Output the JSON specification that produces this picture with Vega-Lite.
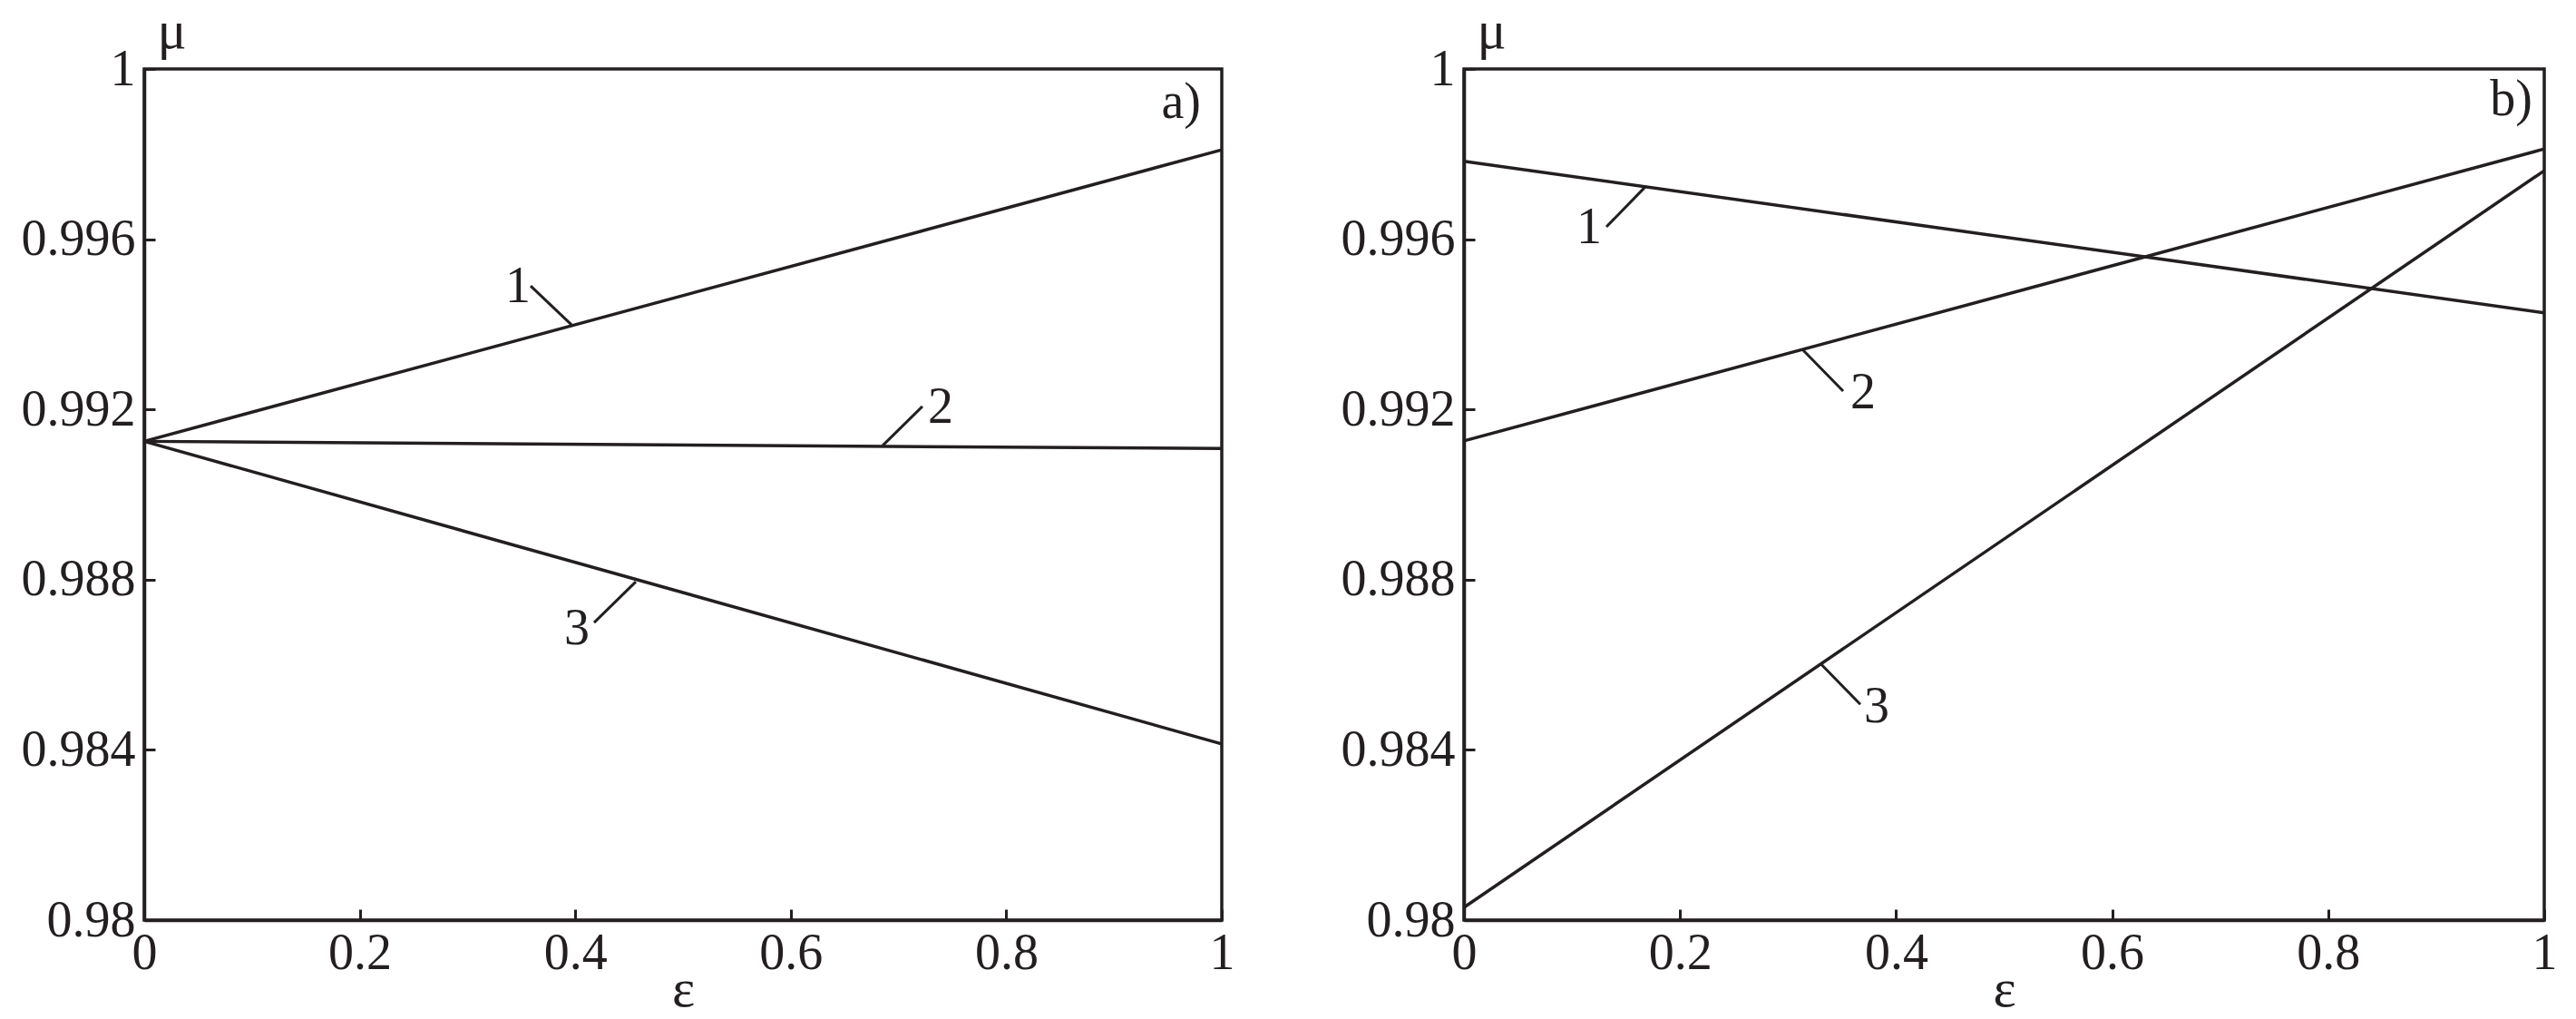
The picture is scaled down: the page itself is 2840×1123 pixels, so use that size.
{
  "$schema": "https://vega.github.io/schema/vega-lite/v6.json",
  "autosize": {"type": "pad"},
  "padding": {"left": 21, "top": 2, "right": 10, "bottom": 5},
  "background": "white",
  "datasets": {
    "lines": [
      {"panel": "a", "curve": "1", "eps": 0, "mu": 0.99125},
      {"panel": "a", "curve": "1", "eps": 1, "mu": 0.9981},
      {"panel": "a", "curve": "2", "eps": 0, "mu": 0.99125},
      {"panel": "a", "curve": "2", "eps": 1, "mu": 0.99108},
      {"panel": "a", "curve": "3", "eps": 0, "mu": 0.99125},
      {"panel": "a", "curve": "3", "eps": 1, "mu": 0.98414},
      {"panel": "b", "curve": "1", "eps": 0, "mu": 0.99783},
      {"panel": "b", "curve": "1", "eps": 1, "mu": 0.99427},
      {"panel": "b", "curve": "2", "eps": 0, "mu": 0.99126},
      {"panel": "b", "curve": "2", "eps": 1, "mu": 0.99812},
      {"panel": "b", "curve": "3", "eps": 0, "mu": 0.9803},
      {"panel": "b", "curve": "3", "eps": 1, "mu": 0.99761}
    ],
    "leaders": [
      {"panel": "a", "curve": "1", "eps": 0.3586, "mu": 0.9949},
      {"panel": "a", "curve": "1", "eps": 0.3965, "mu": 0.99399},
      {"panel": "a", "curve": "2", "eps": 0.7222, "mu": 0.99207},
      {"panel": "a", "curve": "2", "eps": 0.6852, "mu": 0.99115},
      {"panel": "a", "curve": "3", "eps": 0.4175, "mu": 0.98699},
      {"panel": "a", "curve": "3", "eps": 0.4562, "mu": 0.98795},
      {"panel": "b", "curve": "1", "eps": 0.1318, "mu": 0.99629},
      {"panel": "b", "curve": "1", "eps": 0.1679, "mu": 0.99723},
      {"panel": "b", "curve": "2", "eps": 0.3132, "mu": 0.99341},
      {"panel": "b", "curve": "2", "eps": 0.351, "mu": 0.99243},
      {"panel": "b", "curve": "3", "eps": 0.33, "mu": 0.98603},
      {"panel": "b", "curve": "3", "eps": 0.3669, "mu": 0.98507}
    ],
    "nums": [
      {"panel": "a", "text": "1", "eps": 0.3468, "mu": 0.99452},
      {"panel": "a", "text": "2", "eps": 0.7391, "mu": 0.99168},
      {"panel": "a", "text": "3", "eps": 0.4015, "mu": 0.98648},
      {"panel": "b", "text": "1", "eps": 0.1159, "mu": 0.99591},
      {"panel": "b", "text": "2", "eps": 0.3694, "mu": 0.99203},
      {"panel": "b", "text": "3", "eps": 0.382, "mu": 0.98465}
    ],
    "tags": [
      {"panel": "a", "text": "a)", "eps": 0.9806, "mu": 0.99885},
      {"panel": "b", "text": "b)", "eps": 0.9891, "mu": 0.99891}
    ]
  },
  "spacing": 267,
  "bounds": "flush",
  "hconcat": [
    {
      "width": 1188,
      "height": 938,
      "encoding": {
        "x": {"field": "eps", "type": "quantitative", "scale": {"domain": [0, 1], "nice": false, "zero": false},
          "axis": {"values": [0, 0.2, 0.4, 0.6, 0.8, 1], "format": ".1~f", "title": "ε", "labelFlush": false, "labelOverlap": false, "labelPadding": 21, "titleY": 94, "titleBaseline": "alphabetic"}},
        "y": {"field": "mu", "type": "quantitative", "scale": {"domain": [0.98, 1], "nice": false, "zero": false},
          "axis": {"values": [0.98, 0.984, 0.988, 0.992, 0.996, 1], "format": ".3~f", "title": "μ", "titleAngle": 0, "titleX": 30, "titleY": -24, "titleAlign": "center", "titleBaseline": "alphabetic", "labelPadding": 22, "labelFlush": false, "labelOverlap": false}}
      },
      "layer": [
        {"data": {"name": "lines"}, "transform": [{"filter": "datum.panel === 'a'"}],
          "mark": {"type": "line", "color": "#231f20", "strokeWidth": 3.5},
          "encoding": {"detail": {"field": "curve"}}},
        {"data": {"name": "leaders"}, "transform": [{"filter": "datum.panel === 'a'"}],
          "mark": {"type": "line", "color": "#231f20", "strokeWidth": 3},
          "encoding": {"detail": {"field": "curve"}}},
        {"data": {"name": "nums"}, "transform": [{"filter": "datum.panel === 'a'"}],
          "mark": {"type": "text", "font": "Liberation Serif", "fontSize": 56, "color": "#231f20", "align": "center", "baseline": "alphabetic"},
          "encoding": {"text": {"field": "text"}}},
        {"data": {"name": "tags"}, "transform": [{"filter": "datum.panel === 'a'"}],
          "mark": {"type": "text", "font": "Liberation Serif", "fontSize": 56, "color": "#231f20", "align": "right", "baseline": "alphabetic"},
          "encoding": {"text": {"field": "text"}}}
      ]
    },
    {
      "width": 1191,
      "height": 938,
      "encoding": {
        "x": {"field": "eps", "type": "quantitative", "scale": {"domain": [0, 1], "nice": false, "zero": false},
          "axis": {"values": [0, 0.2, 0.4, 0.6, 0.8, 1], "format": ".1~f", "title": "ε", "labelFlush": false, "labelOverlap": false, "labelPadding": 21, "titleY": 94, "titleBaseline": "alphabetic"}},
        "y": {"field": "mu", "type": "quantitative", "scale": {"domain": [0.98, 1], "nice": false, "zero": false},
          "axis": {"values": [0.98, 0.984, 0.988, 0.992, 0.996, 1], "format": ".3~f", "title": "μ", "titleAngle": 0, "titleX": 30, "titleY": -24, "titleAlign": "center", "titleBaseline": "alphabetic", "labelPadding": 22, "labelFlush": false, "labelOverlap": false}}
      },
      "layer": [
        {"data": {"name": "lines"}, "transform": [{"filter": "datum.panel === 'b'"}],
          "mark": {"type": "line", "color": "#231f20", "strokeWidth": 3.5},
          "encoding": {"detail": {"field": "curve"}}},
        {"data": {"name": "leaders"}, "transform": [{"filter": "datum.panel === 'b'"}],
          "mark": {"type": "line", "color": "#231f20", "strokeWidth": 3},
          "encoding": {"detail": {"field": "curve"}}},
        {"data": {"name": "nums"}, "transform": [{"filter": "datum.panel === 'b'"}],
          "mark": {"type": "text", "font": "Liberation Serif", "fontSize": 56, "color": "#231f20", "align": "center", "baseline": "alphabetic"},
          "encoding": {"text": {"field": "text"}}},
        {"data": {"name": "tags"}, "transform": [{"filter": "datum.panel === 'b'"}],
          "mark": {"type": "text", "font": "Liberation Serif", "fontSize": 56, "color": "#231f20", "align": "right", "baseline": "alphabetic"},
          "encoding": {"text": {"field": "text"}}}
      ]
    }
  ],
  "config": {
    "font": "Liberation Serif",
    "view": {"stroke": "#231f20", "strokeWidth": 3.5},
    "axis": {
      "domainColor": "#231f20", "domainWidth": 3.5,
      "tickColor": "#231f20", "tickWidth": 3, "tickSize": -12,
      "grid": false,
      "labelFont": "Liberation Serif", "labelFontSize": 56, "labelColor": "#231f20",
      "titleFont": "Liberation Serif", "titleFontSize": 60, "titleFontWeight": "normal", "titleColor": "#231f20"
    }
  }
}
